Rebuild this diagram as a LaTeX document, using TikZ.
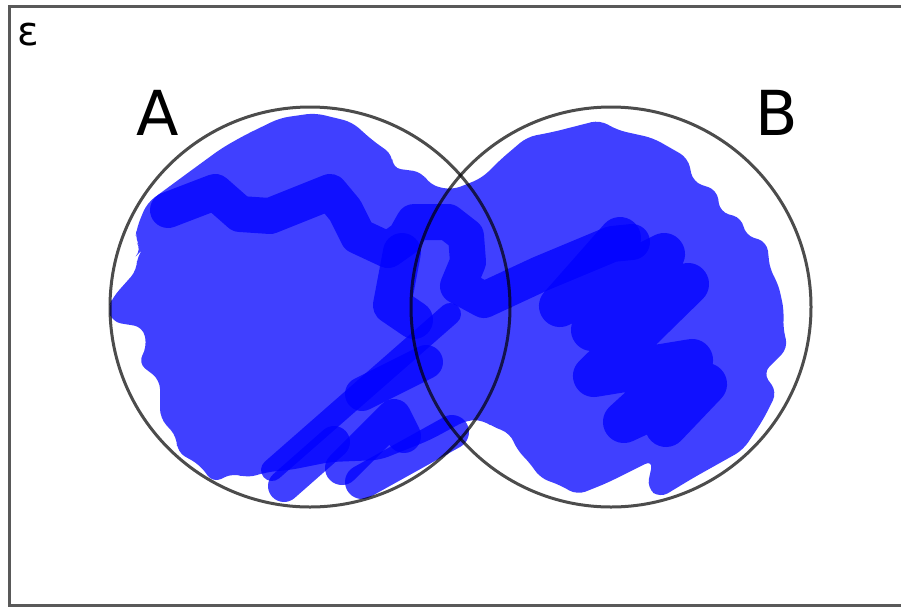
\documentclass[tikz,border=0pt]{standalone}
\usepackage{fontspec}
\setmainfont{DejaVu Sans}
\usepackage{tikz}

\begin{document}
\begin{tikzpicture}[
    x=1pt, y=-1pt,
    setcircle/.style={circle, draw=black, draw opacity=0.7, line width=3pt,
                      minimum size=400pt, inner sep=0pt},
    setlabel/.style={anchor=base, inner sep=0pt, font=\fontsize{62}{70}\selectfont},
    shade/.style={fill=blue, fill opacity=0.75, rounded corners=9pt},
    scribble/.style={draw=blue, draw opacity=0.75, line width=36pt,
                     line cap=round, line join=round}
]
    \useasboundingbox (0,0) rectangle (901,608);
    \draw[line width=3pt, black!65] (9,6) rectangle (930,605);

    \fill[shade] (147,203) -- (185,175) -- (222,148) -- (245,135) -- (280,118)
        -- (315,113) -- (352,122) -- (372,140) -- (393,155) -- (392,168)
        -- (422,172) -- (430,185) -- (452,190) -- (482,178) -- (500,160)
        -- (527,137) -- (553,132) -- (600,120) -- (617,130) -- (653,138)
        -- (688,158) -- (693,182) -- (717,190) -- (720,212) -- (742,218)
        -- (745,235) -- (767,242) -- (770,270) -- (778,283) -- (784,310)
        -- (783,328) -- (788,348) -- (763,373) -- (777,392) -- (763,420)
        -- (743,450) -- (693,478) -- (660,498) -- (647,488) -- (653,460)
        -- (633,470) -- (607,483) -- (577,495) -- (560,485) -- (540,478)
        -- (530,463) -- (517,450) -- (510,433) -- (493,427) -- (483,420)
        -- (467,420) -- (430,440) -- (380,460) -- (330,462) -- (290,470)
        -- (267,472) -- (247,478) -- (233,473) -- (213,483) -- (200,465)
        -- (177,452) -- (177,437) -- (160,418) -- (160,380) -- (138,363)
        -- (147,347) -- (143,327) -- (112,322) -- (108,308) -- (113,297)
        -- (137,270) -- (137,255) -- (142,250) -- (135,240) -- (137,227)
        -- cycle;

    \draw[scribble] (168,210) -- (215,192) -- (240,214) -- (270,216) -- (330,192)
        -- (345,210) -- (358,236) -- (388,250) -- (405,238) -- (414,222)
        -- (448,222) -- (466,236) -- (468,262) -- (458,286) -- (484,300)
        -- (540,274) -- (612,244) -- (632,242);
    \draw[scribble, line width=38pt] (402,252) -- (392,305) -- (414,320);
    \draw[scribble, line width=42pt] (620,238) -- (560,306) -- (664,254)
        -- (592,330) -- (688,284) -- (594,376) -- (692,360) -- (624,422)
        -- (706,384) -- (666,426);
    \draw[scribble, line width=22pt] (272,470) -- (450,314);
    \draw[scribble, line width=32pt] (284,486) -- (334,442);
    \draw[scribble, line width=34pt] (362,394) -- (426,362);
    \draw[scribble, line width=34pt] (342,468) -- (394,416) -- (404,436);
    \draw[scribble, line width=34pt] (362,482) -- (452,432);

    \node[setcircle] (setA) at (310,307) {};
    \node[setcircle] (setB) at (611,307) {};

    \node[anchor=base, inner sep=0pt, font=\fontsize{40}{48}\selectfont] (univ)
        at (28,45) {ε};
    \node[setlabel] (labA) at (158,135) {A};
    \node[setlabel] (labB) at (777,135) {B};
\end{tikzpicture}
\end{document}
